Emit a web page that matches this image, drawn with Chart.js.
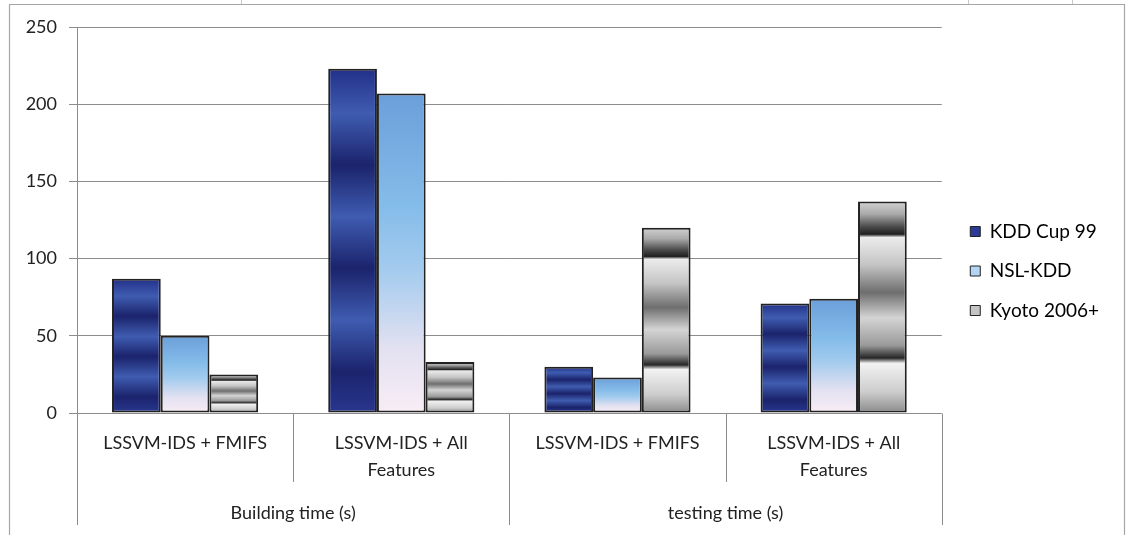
<!DOCTYPE html>
<html>
<head>
<meta charset="utf-8">
<title>LSSVM-IDS building and testing time</title>
<script src="https://cdn.jsdelivr.net/npm/chart.js@4.4.1/dist/chart.umd.min.js"></script>
<style>
  html, body { margin: 0; padding: 0; background: #ffffff; }
  #wrap { position: relative; width: 1126px; height: 535px; }
</style>
</head>
<body>
<div id="wrap"><canvas id="chart"></canvas></div>
<script>
// Method labels (first row of the category axis)
const methodLabels = [
  'LSSVM-IDS + FMIFS',
  ['LSSVM-IDS + All', 'Features'],
  'LSSVM-IDS + FMIFS',
  ['LSSVM-IDS + All', 'Features']
];
// Phase labels (second row of the category axis)
const phaseLabels = ['Building time (s)', 'testing time (s)'];

// Series (seconds)
const seriesNames = ['KDD Cup 99', 'NSL-KDD', 'Kyoto 2006+'];
const kddCup99 = [87, 223, 30, 71];
const nslKdd = [50, 207, 23, 74];
const kyoto2006 = [25, 33, 120, 137];

// Value axis
const yMin = 0;
const yMax = 250;
const yStep = 50;

const FONT = 'Lato, "Open Sans", "Liberation Sans", sans-serif';
const TEXT = '#222222';
const GRID = '#8c8c8c';

// Fill recipes, positions are fractions of the bar height (0 = top, 1 = base)
function kddStops() {
  const s = [];
  const period = 0.3;
  for (let k = -1; k < 5; k++) {
    const d = -0.02 + k * period;
    const l = d + period / 2;
    if (d >= 0 && d <= 1) s.push([d, '#1b236c']);
    if (l >= 0 && l <= 1) s.push([l, '#3f5cb0']);
  }
  s.unshift([0, '#223088']);
  s.push([1, '#28378f']);
  return s;
}
const nslStops = [[0, '#6b9fda'], [0.35, '#84bce9'], [0.55, '#a3cbee'], [0.8, '#e3e1f1'], [1, '#f8edf5']];
const kyotoStops = [
  [0, '#d2d2d2'], [0.06, '#a9a9a9'], [0.12, '#4a4a4a'], [0.155, '#1f1f1f'],
  [0.17, '#ececec'], [0.3, '#c4c4c4'], [0.43, '#6e6e6e'], [0.55, '#d4d4d4'],
  [0.68, '#9a9a9a'], [0.74, '#262626'], [0.765, '#f2f2f2'], [0.9, '#cdcdcd'], [1, '#8a8a8a']
];

function barFill(stops, fallback) {
  return function (c) {
    if (c.type !== 'data') return fallback;
    const chart = c.chart;
    const y = chart.scales.y;
    if (!y || !chart.chartArea) return fallback;
    const top = y.getPixelForValue(c.raw);
    const base = y.getPixelForValue(0);
    if (!isFinite(top) || !isFinite(base) || base - top < 1) return fallback;
    const g = chart.ctx.createLinearGradient(0, top, 0, base);
    stops.forEach(([p, col]) => g.addColorStop(Math.min(1, Math.max(0, p)), col));
    return g;
  };
}

const swatches = ['#2a3a95', '#b3d4f2', '#c4c4c4'];

// Frame around the chart and the separators of the two-row category axis
const axisFurniture = {
  id: 'axisFurniture',
  beforeDraw(chart) {
    const ctx = chart.ctx;
    ctx.save();
    ctx.fillStyle = '#ffffff';
    ctx.fillRect(0, 0, chart.width, chart.height);
    ctx.strokeStyle = '#a6a6a6';
    ctx.lineWidth = 1.2;
    ctx.beginPath();
    ctx.moveTo(9.5, chart.height);
    ctx.lineTo(9.5, 4.5);
    ctx.lineTo(chart.width - 1.5, 4.5);
    ctx.lineTo(chart.width - 1.5, chart.height);
    ctx.stroke();
    ctx.strokeStyle = '#c8c8c8';
    ctx.lineWidth = 1;
    [241.5, 968.5, 1072.5].forEach(x => {
      ctx.beginPath();
      ctx.moveTo(x, 0);
      ctx.lineTo(x, 4);
      ctx.stroke();
    });
    ctx.restore();
  },
  afterDraw(chart) {
    const ctx = chart.ctx;
    const x = chart.scales.x;
    const area = chart.chartArea;
    const n = methodLabels.length;
    const half = (x.getPixelForValue(1) - x.getPixelForValue(0)) / 2;
    const y0 = Math.round(area.bottom) + 0.5;
    ctx.save();
    ctx.strokeStyle = GRID;
    ctx.lineWidth = 1;
    for (let i = 0; i <= n; i++) {
      const px = Math.round(x.getPixelForValue(i) - half) + 0.5;
      const isPhaseEdge = (i % 2 === 0);
      ctx.beginPath();
      ctx.moveTo(px, y0);
      ctx.lineTo(px, isPhaseEdge ? 525 : 482);
      ctx.stroke();
    }
    ctx.restore();
  }
};

const hiddenAxis = (position, size) => ({
  type: 'linear',
  position,
  min: 0,
  max: 1,
  grid: { display: false, drawTicks: false },
  border: { display: false },
  ticks: { display: false },
  afterFit(s) {
    if (position === 'top' || position === 'bottom') s.height = size; else s.width = size;
  }
});

const chart = new Chart(document.getElementById('chart'), {
  type: 'bar',
  data: {
    labels: methodLabels,
    datasets: [
      { label: seriesNames[0], data: kddCup99, backgroundColor: barFill(kddStops(), swatches[0]) },
      { label: seriesNames[1], data: nslKdd, backgroundColor: barFill(nslStops, swatches[1]) },
      { label: seriesNames[2], data: kyoto2006, backgroundColor: barFill(kyotoStops, swatches[2]) }
    ].map(d => Object.assign(d, {
      borderColor: '#222222',
      borderWidth: 2,
      borderSkipped: false,
      categoryPercentage: 0.676,
      barPercentage: 1.0,
      xAxisID: 'x',
      yAxisID: 'y'
    }))
  },
  options: {
    responsive: true,
    maintainAspectRatio: false,
    animation: false,
    devicePixelRatio: 1,
    layout: { padding: { left: 0, right: 17, top: 7, bottom: 0 } },
    plugins: {
      tooltip: { enabled: false },
      legend: {
        position: 'right',
        align: 'center',
        labels: {
          boxWidth: 10,
          boxHeight: 10,
          padding: 20.5,
          color: TEXT,
          font: { family: FONT, size: 19 },
          generateLabels(ch) {
            return ch.data.datasets.map((ds, i) => ({
              text: ds.label,
              fillStyle: swatches[i],
              strokeStyle: '#222222',
              lineWidth: 1,
              hidden: false,
              datasetIndex: i
            }));
          }
        }
      }
    },
    scales: {
      x: {
        type: 'category',
        position: 'bottom',
        offset: true,
        grid: { display: false, drawTicks: false },
        border: { display: false },
        ticks: {
          color: TEXT,
          padding: 16.5,
          maxRotation: 0,
          autoSkip: false,
          font: { family: FONT, size: 18, lineHeight: 1.5 }
        },
        afterFit(s) { s.height = 70; }
      },
      x2: {
        type: 'category',
        position: 'bottom',
        labels: phaseLabels,
        offset: true,
        grid: { display: false, drawTicks: false },
        border: { display: false },
        ticks: {
          color: TEXT,
          padding: 19,
          maxRotation: 0,
          autoSkip: false,
          font: { family: FONT, size: 18, lineHeight: 1.2 }
        },
        afterFit(s) { s.height = 52; }
      },
      y: {
        type: 'linear',
        position: 'left',
        min: yMin,
        max: yMax,
        ticks: {
          stepSize: yStep,
          color: TEXT,
          padding: 12,
          font: { family: FONT, size: 18 }
        },
        grid: { color: GRID, lineWidth: 1, tickLength: 8, drawTicks: true, tickColor: GRID },
        border: { display: true, color: GRID, width: 1 },
        afterFit(s) { s.width = 77; }
      },
      gapRight: hiddenAxis('right', 8),
      gapTop: hiddenAxis('top', 20)
    }
  },
  plugins: [axisFurniture]
});
</script>
</body>
</html>
